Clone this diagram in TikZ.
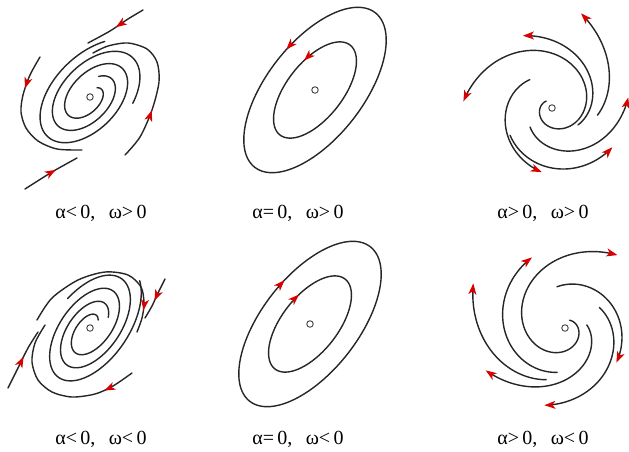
\documentclass[tikz,border=0pt]{standalone}
\usepackage{fontspec}
\setmainfont{Liberation Serif}
\usetikzlibrary{arrows.meta,decorations.markings}

\newcommand*{\spiralarm}[7][]{%
  \draw[traj,#1] plot[domain=0:1,samples=60,smooth,variable=\t]
    ({#2+#6*exp(\t*ln(#7/#6))*cos(#4+#5*\t)},{#3+#6*exp(\t*ln(#7/#6))*sin(#4+#5*\t)});}
\newcommand*{\orbit}[7][]{%
  \draw[traj,#1] plot[domain=0:360,samples=121,variable=\t]
    ({#2+#4*cos(\t)*cos(#6)+(#7)*#5*sin(\t)*sin(#6)},{#3-#4*cos(\t)*sin(#6)+(#7)*#5*sin(\t)*cos(#6)});}

\begin{document}
\begin{tikzpicture}
[
	x=1pt,y=-1pt,
	traj/.style={line width=1.4pt,black!85,line cap=round},
	outarrow/.style={-{Stealth[length=11pt,width=8pt,inset=3pt,color=red!85!black]}},
	arrowat/.style={postaction={decorate},decoration={markings,
		mark=at position #1 with {\arrow{Stealth[length=11pt,width=8pt,inset=3pt,color=red!85!black]}}}},
	fixpt/.style={circle,draw=black!75,line width=0.9pt,inner sep=0pt,minimum size=6.5pt},
	caption/.style={font=\fontsize{20}{22}\selectfont}
]
	\useasboundingbox (0,0) rectangle (629,451);

	% stable focus, omega > 0
	\begin{scope}[shift={(90,97)},rotate=45,yscale=0.6]
		\draw[traj] plot[domain=830:141,samples=150,smooth,variable=\s] ({0.0833*\s*cos(\s-154)},{0.0833*\s*sin(\s-154)});
		\draw[traj] plot[domain=760:300,samples=100,smooth,variable=\s] ({0.0833*\s*cos(\s+26)},{0.0833*\s*sin(\s+26)});
	\end{scope}
	\draw[traj,arrowat=0.5] plot[smooth] coordinates {(143,10) (128,19) (110,31) (88,43)};
	\draw[traj,arrowat=0.3] plot[smooth] coordinates {(125,155) (140,137) (152,110) (159,82) (157,62) (147,49) (128,43) (108,46) (93,53)};
	\draw[traj,arrowat=0.25] plot[smooth] coordinates {(40,57) (30,75) (23,95) (21,112) (26,128) (38,141) (57,149) (82,150)};
	\draw[traj,arrowat=0.6] plot[smooth] coordinates {(25,189) (52,172) (77,158)};
	\node[fixpt] (o1) at (90,97) {};

	% centre, omega > 0
	\orbit[arrowat=0.22]{315}{90}{98}{48}{52}{-1}
	\orbit[arrowat=0.19]{315}{90}{57}{28}{52}{-1}
	\node[fixpt] (o2) at (315,90) {};

	% unstable focus, omega > 0
	\spiralarm[outarrow]{552}{108}{230}{-406}{9}{89}
	\spiralarm[outarrow]{552}{108}{33}{-145}{31}{78}
	\spiralarm[outarrow]{552}{108}{9}{-82}{46}{99}
	\spiralarm[outarrow]{552}{108}{139}{-147}{29}{77}
	\spiralarm[outarrow]{552}{108}{147}{-114}{50}{72}
	\spiralarm[outarrow]{552}{108}{232}{-133}{36}{65}
	\node[fixpt] (o3) at (552,108) {};

	% stable focus, omega < 0
	\begin{scope}[shift={(90,328)},rotate=55,yscale=0.55]
		\draw[traj] plot[domain=860:141,samples=150,smooth,variable=\s] ({0.0833*\s*cos(160-\s)},{0.0833*\s*sin(160-\s)});
		\draw[traj] plot[domain=780:300,samples=100,smooth,variable=\s] ({0.0833*\s*cos(340-\s)},{0.0833*\s*sin(340-\s)});
	\end{scope}
	\draw[traj,arrowat=0.87] plot[smooth] coordinates {(37,320) (52,298) (78,280) (105,272) (128,275) (141,287) (144,303) (142,318) (137,332)};
	\draw[traj,arrowat=0.55] plot[smooth] coordinates {(165,279) (158,293) (152,306) (145,318)};
	\draw[traj,arrowat=0.55] plot[smooth] coordinates {(8,388) (18,368) (28,348) (38,332)};
	\draw[traj,arrowat=0.2] plot[smooth] coordinates {(132,373) (113,386) (95,394) (72,397) (52,392) (38,380) (32,362) (35,343) (45,325)};
	\node[fixpt] (o4) at (90,328) {};

	% centre, omega < 0
	\orbit[arrowat=0.79]{310}{324}{98}{48}{52}{1}
	\orbit[arrowat=0.81]{310}{324}{57}{28}{52}{1}
	\node[fixpt] (o5) at (310,324) {};

	% unstable focus, omega < 0
	\spiralarm[outarrow]{565}{328}{100}{145}{45}{78}
	\spiralarm[outarrow]{565}{328}{110}{96}{55}{102}
	\spiralarm[outarrow]{565}{328}{-60}{366}{9}{90}
	\spiralarm[outarrow]{565}{328}{259}{135}{42}{62}
	\spiralarm[outarrow]{565}{328}{329}{136}{40}{80}
	\spiralarm[outarrow]{565}{328}{-8}{160}{22}{90}
	\node[fixpt] (o6) at (565,328) {};

	% captions
	\node[caption] (c1) at (101,213) {α<\,0,\ \ \,ω>\,0};
	\node[caption] (c2) at (298,213) {α=\,0,\ \ \,ω>\,0};
	\node[caption] (c3) at (543,213) {α>\,0,\ \ \,ω>\,0};
	\node[caption] (c4) at (101,439) {α<\,0,\ \ \,ω<\,0};
	\node[caption] (c5) at (298,439) {α=\,0,\ \ \,ω<\,0};
	\node[caption] (c6) at (543,439) {α>\,0,\ \ \,ω<\,0};

\end{tikzpicture}
\end{document}
